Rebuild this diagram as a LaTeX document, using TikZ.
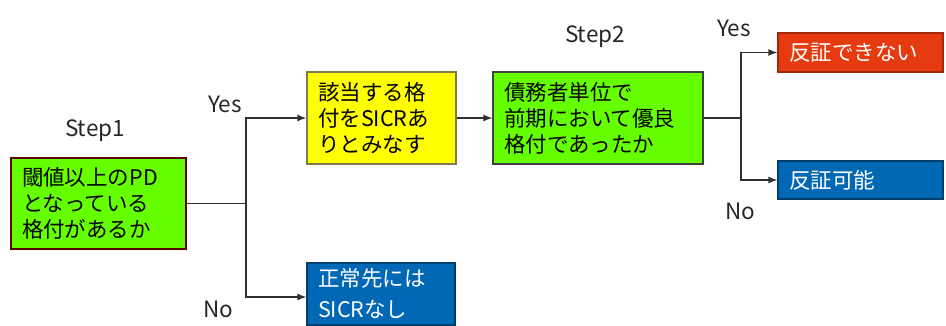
\documentclass[tikz,border=0pt]{standalone}
\usepackage{fontspec}
\setmainfont{Noto Sans CJK JP}
\usetikzlibrary{arrows.meta,calc}
\definecolor{gbox}{HTML}{66FF00}
\definecolor{ybox}{HTML}{FFFF00}
\definecolor{rbox}{HTML}{E63A10}
\definecolor{bbox}{HTML}{0068B4}
\definecolor{lnc}{HTML}{303030}
\tikzset{
  card/.style={rectangle, draw, line width=1.2pt, align=left, inner xsep=11pt, inner ysep=0pt,
    font=\fontsize{21.5}{26}\selectfont},
  lbl/.style={font=\fontsize{22.5}{26}\selectfont, text=black!85},
  conn/.style={draw=lnc, line width=1.3pt, -{Latex[length=9pt,width=7pt]}},
  plain/.style={draw=lnc, line width=1.3pt}
}
\begin{document}
\begin{tikzpicture}[x=1pt,y=-1pt]
\useasboundingbox (0,0) rectangle (946,325);
\clip (0,0) rectangle (946,325);
\node[card, fill=gbox, draw=black!40!red!60!black, minimum width=175, minimum height=91, text width=153] (s1) at (98.5,203.5) {閾値以上のPD\\となっている\\格付があるか};
\node[card, fill=ybox, draw=black!40!yellow!70!black, minimum width=149, minimum height=92, text width=127] (y1) at (381.5,118) {該当する格\\付をSICRあ\\りとみなす};
\node[card, fill=gbox, draw=black!75, minimum width=210, minimum height=92, text width=188] (s2) at (598,118) {債務者単位で\\前期において優良\\格付であったか};
\node[card, fill=bbox, draw=bbox!60!black, text=white, minimum width=148, minimum height=62, text width=126] (n1) at (381,294) {正常先には\\[5pt]SICRなし};
\node[card, fill=rbox, draw=rbox!70!black, text=white, minimum width=165, minimum height=39, text width=143] (r1) at (860.5,52.5) {反証できない};
\node[card, fill=bbox, draw=bbox!60!black, text=white, minimum width=165, minimum height=38, text width=143] (b1) at (860.5,180) {反証可能};
\coordinate (j1) at (246,203.5);
\coordinate (j2) at (741,118);
\draw[plain] (s1.east) -- (j1);
\draw[conn] (j1) |- (y1.west);
\draw[conn] (j1) |- ([yshift=-3pt]n1.west);
\draw[conn] (y1.east) -- (s2.west);
\draw[plain] (s2.east) -- (j2);
\draw[conn] (j2) |- (r1.west);
\draw[conn] (j2) |- (b1.west);
\node[lbl] (t1) at (95,131) {Step1};
\node[lbl] (t2) at (595,37) {Step2};
\node[lbl] (ya) at (225,104) {Yes};
\node[lbl] (na) at (218,309) {No};
\node[lbl] (yb) at (734,28) {Yes};
\node[lbl] (nb) at (740,211) {No};
\end{tikzpicture}
\end{document}
